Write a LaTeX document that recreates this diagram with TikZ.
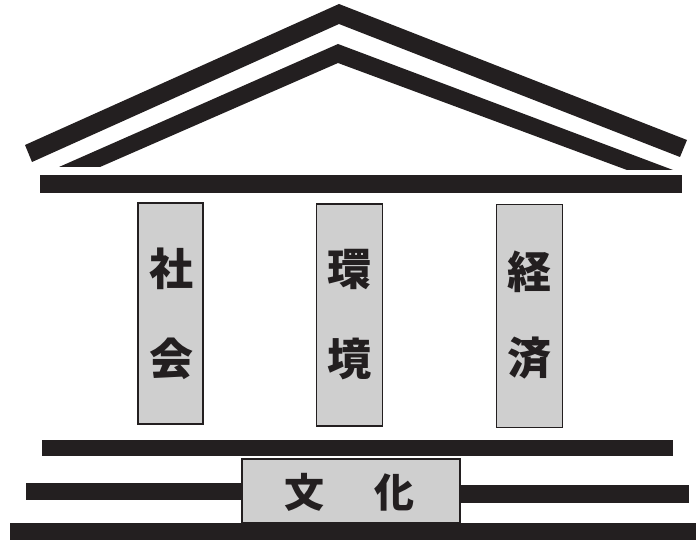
\documentclass[tikz,border=0pt]{standalone}
\usepackage{fontspec}
\newfontfamily\cjk{Noto Sans CJK JP}
\definecolor{ink}{HTML}{231F20}
\definecolor{pillar}{HTML}{CFCFCF}
\begin{document}
\begin{tikzpicture}[x=1pt,y=-1pt,
  bar/.style={fill=ink},
  pillarbox/.style={draw=ink,line width=1.6pt,fill=pillar,inner sep=0pt},
  glyph/.style={font=\cjk\bfseries\fontsize{44}{44}\selectfont,text=ink,inner sep=0pt}]
\useasboundingbox (0,0) rectangle (696,545);
% roof
\fill[ink] (25,145) -- (339,4) -- (687,140) -- (680,157) -- (339,24) -- (32,162) -- cycle;
\fill[ink] (59,167) -- (338,44) -- (673,170) -- (627,170) -- (338,63) -- (100,167) -- cycle;
% entablature
\fill[bar] (40,175) rectangle (682,193);
% pillars
\node[pillarbox,minimum width=65pt,minimum height=221pt] (p1) at (170.5,313.5) {};
\node[pillarbox,minimum width=66pt,minimum height=222pt] (p2) at (349.5,315) {};
\node[pillarbox,minimum width=66pt,minimum height=223pt] (p3) at (529.5,316) {};
\node[glyph] (t1a) at (171,269) {社};
\node[glyph] (t1b) at (171,359) {会};
\node[glyph] (t2a) at (349,269) {環};
\node[glyph] (t2b) at (349,359) {境};
\node[glyph] (t3a) at (529,272) {経};
\node[glyph] (t3b) at (529,358) {済};
% base steps
\fill[bar] (42,440) rectangle (673,456);
\fill[bar] (26,483) rectangle (250,500);
\fill[bar] (452,485) rectangle (689,503);
\fill[bar] (10,523) rectangle (696,540);
\node[pillarbox,minimum width=218pt,minimum height=64pt] (base) at (351,491) {};
\node[glyph,font=\cjk\bfseries\fontsize{40}{40}\selectfont] (b1) at (304,492) {文};
\node[glyph,font=\cjk\bfseries\fontsize{40}{40}\selectfont] (b2) at (394,492) {化};
\end{tikzpicture}
\end{document}
